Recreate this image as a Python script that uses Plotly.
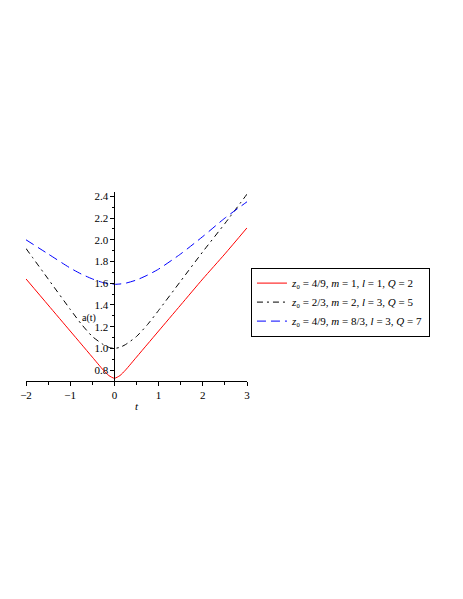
import plotly.graph_objects as go

# data
t_vals = [-2, -1.5, -1, -0.75, -0.5, -0.25, -0.125, 0, 0.125, 0.25, 0.5, 0.75, 1, 1.5, 2, 2.5, 3]
red_vals = [1.64, 1.40, 1.16, 1.04, 0.92, 0.80, 0.75, 0.725, 0.75, 0.80, 0.92, 1.04, 1.16, 1.40, 1.64, 1.87, 2.11]
black_vals = [1.92, 1.64, 1.36, 1.225, 1.11, 1.035, 1.01, 1.00, 1.01, 1.035, 1.11, 1.22, 1.35, 1.62, 1.89, 2.15, 2.42]
blue_vals = [2.00, 1.87, 1.74, 1.685, 1.64, 1.605, 1.595, 1.59, 1.593, 1.60, 1.63, 1.675, 1.73, 1.87, 2.03, 2.20, 2.35]

names = [
    "<i>z</i>\u2080 = 4/9, <i>m</i> = 1, <i>l</i> = 1, <i>Q</i> = 2",
    "<i>z</i>\u2080 = 2/3, <i>m</i> = 2, <i>l</i> = 3, <i>Q</i> = 5",
    "<i>z</i>\u2080 = 4/9, <i>m</i> = 8/3, <i>l</i> = 3, <i>Q</i> = 7",
]
x_ticks = [-2, -1, 0, 1, 2, 3]
y_ticks = [0.8, 1.0, 1.2, 1.4, 1.6, 1.8, 2.0, 2.2, 2.4]

FONT = "Liberation Serif"

fig = go.Figure()
fig.add_trace(go.Scatter(x=t_vals, y=red_vals, mode="lines", name=names[0],
                         line=dict(color="#ff0000", width=1, shape="spline", smoothing=0.6)))
fig.add_trace(go.Scatter(x=t_vals, y=black_vals, mode="lines", name=names[1],
                         line=dict(color="#000000", width=1, shape="spline", smoothing=0.6,
                                   dash="6px,4px,2px,4px")))
fig.add_trace(go.Scatter(x=t_vals, y=blue_vals, mode="lines", name=names[2],
                         line=dict(color="#0000ff", width=1, shape="spline", smoothing=0.6,
                                   dash="9px,5px")))

fig.update_layout(
    width=447, height=583,
    paper_bgcolor="white", plot_bgcolor="white",
    margin=dict(l=18, r=208, t=184, b=210, autoexpand=False),
    font=dict(family=FONT, size=11, color="black"),
    showlegend=True,
    legend=dict(x=1.018, y=0.60, xanchor="left", yanchor="top",
                bordercolor="black", borderwidth=1, bgcolor="white",
                font=dict(family=FONT, size=11, color="black"),
                tracegroupgap=0, itemwidth=30),
    xaxis=dict(range=[-2, 3], tickvals=x_ticks, ticktext=["\u22122", "\u22121", "0", "1", "2", "3"],
               showgrid=False, zeroline=False, showline=True, linecolor="black", linewidth=1,
               ticks="outside", ticklen=4, tickcolor="black",
               minor=dict(dtick=0.5, tick0=0, ticks="outside", ticklen=3, tickcolor="black"),
               title=dict(text="<i>t</i>", standoff=2, font=dict(family=FONT, size=11)),
               tickfont=dict(family=FONT, size=11)),
    yaxis=dict(range=[0.70, 2.44], tickvals=y_ticks, ticktext=[f"{v:.1f}" for v in y_ticks],
               anchor="free", position=0.4,
               showgrid=False, zeroline=False, showline=True, linecolor="black", linewidth=1,
               ticks="outside", ticklen=4, tickcolor="black",
               minor=dict(dtick=0.1, tick0=0, ticks="outside", ticklen=2, tickcolor="black"),
               tickfont=dict(family=FONT, size=11)),
    annotations=[dict(text="a(t)", x=0.244, y=0.293, xref="paper", yref="paper",
                      showarrow=False, font=dict(family=FONT, size=10, color="black"))],
)

fig.write_html("out.html")
